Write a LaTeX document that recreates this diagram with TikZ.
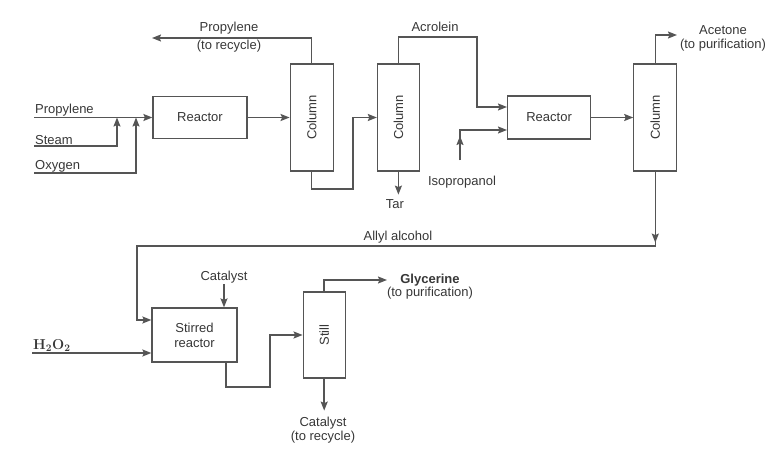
\documentclass[tikz,border=0pt]{standalone}
\usepackage[no-math]{fontspec}
\setmainfont{Liberation Sans}
\usetikzlibrary{arrows.meta,positioning,calc}
\definecolor{ink}{RGB}{55,55,55}
\definecolor{pipegray}{RGB}{85,85,85}
\newcommand{\labelfont}{\fontsize{13}{15}\selectfont}
\tikzset{
  unit/.style    = {draw=pipegray, line width=1.2pt, fill=white, text=ink,
                    inner sep=0pt, align=center},
  column/.style  = {unit, minimum width=43pt, minimum height=107pt},
  reactor/.style = {unit, minimum width=94pt, minimum height=42pt},
  tag/.style     = {text=ink, inner sep=1pt, align=center},
  boldtag/.style = {tag, font=\labelfont\bfseries},
  pipe/.style    = {draw=pipegray, line width=1.5pt},
  flow/.style    = {pipe, -{Stealth[length=9pt, width=7pt, inset=1.5pt]}},
}

\begin{document}
\begin{tikzpicture}[x=1pt, y=-1pt, font=\labelfont]
\useasboundingbox (0,0) rectangle (773,452);
% upper train: reactor, columns, reactor, column
\node[reactor] (r1) at (200,117.5) {Reactor};
\node[column, right=42pt of r1] (c1) {};
\node[column, minimum width=42pt, right=43pt of c1] (c2) {};
\node[reactor, minimum width=83pt, minimum height=43pt, right=87pt of c2] (r2) {Reactor};
\node[column, right=42pt of r2] (c3) {};
\node[tag, rotate=90] (c1t) at (c1) {Column};
\node[tag, rotate=90] (c2t) at (c2) {Column};
\node[tag, rotate=90] (c3t) at (c3) {Column};

% feeds to the first reactor
\coordinate (pf) at (34,117.5);
\coordinate (sf) at (34,146);
\coordinate (of) at (34,173);
\draw[flow] (pf) -- (r1.west);
\draw[flow] (sf) -| (117,117.5);
\draw[flow] (of) -| (136,117.5);
\node[tag, anchor=south west] (pfl) at (pf) {Propylene};
\node[tag, anchor=south west] (sfl) at (sf) {Steam};
\node[tag, anchor=south west] (ofl) at (of) {Oxygen};

\draw[flow] (r1.east) -- (r1.east -| c1.west);
% propylene recycle off the top of the first column
\draw[flow] (c1.north) |- (152,38);
\node[tag] (rec1) at (229,28) {Propylene};
\node[tag] (rec2) at (229,46) {(to recycle)};
\draw[flow] (c1.south) |- (353,189) |- (c2.west);

% acrolein and isopropanol to the second reactor
\draw[flow] (c2.north) |- (477,37) |- ($(r2.west)+(0,-10.5)$);
\node[tag] (acr) at (435,27) {Acrolein};
\draw[flow] (c2.south) -- ++(0,23);
\node[tag] (tar) at (395,204) {Tar};
\coordinate (ip) at (460,160);
\draw[flow] (ip) |- ($(r2.west)+(0,12.5)$);
\draw[flow] (ip) -- ++(0,-24);
\node[tag] (ipl) at (462,182) {Isopropanol};

\draw[flow] (r2.east) -- (c3.west);
\draw[flow] (c3.north) |- (677,35);
\node[tag] (ace) at (723,30) {Acetone};
\node[tag] (ace2) at (723,45) {(to purification)};

% lower train
\node[reactor, minimum width=85pt, minimum height=54pt] (sr) at (194.5,335) {Stirred\\reactor};
\node[column, minimum width=42pt, minimum height=86pt, right=65pt of sr] (st) {};
\node[tag, rotate=90] (stt) at (st) {Still};

% allyl alcohol loop back down to the stirred reactor
\draw[flow] (c3.south) -- ++(0,71);
\draw[flow] (c3.south) |- (137,246) |- ($(sr.west)+(0,-15)$);
\node[tag] (all) at (398,237) {Allyl alcohol};

\node[tag] (cat) at (224,277) {Catalyst};
\draw[flow] (cat) -- (cat |- sr.north);
\coordinate (hf) at (32,353);
\draw[flow] (hf) -- (hf -| sr.west);
\node[tag, anchor=south west, font=\fontsize{14}{16}\selectfont] (hfl) at (hf) {$\mathbf{H_2O_2}$};

\draw[flow] ($(sr.south)+(31.5,0)$) |- (270,387) |- (st.west);
\draw[flow] (st.north) |- (387,280);
\node[boldtag] (gly) at (430,280) {Glycerine};
\node[tag] (gly2) at (430,293) {(to purification)};
\draw[flow] (st.south) -- ++(0,32);
\node[tag] (catr) at (323,423) {Catalyst};
\node[tag] (catr2) at (323,437) {(to recycle)};
\end{tikzpicture}
\end{document}
